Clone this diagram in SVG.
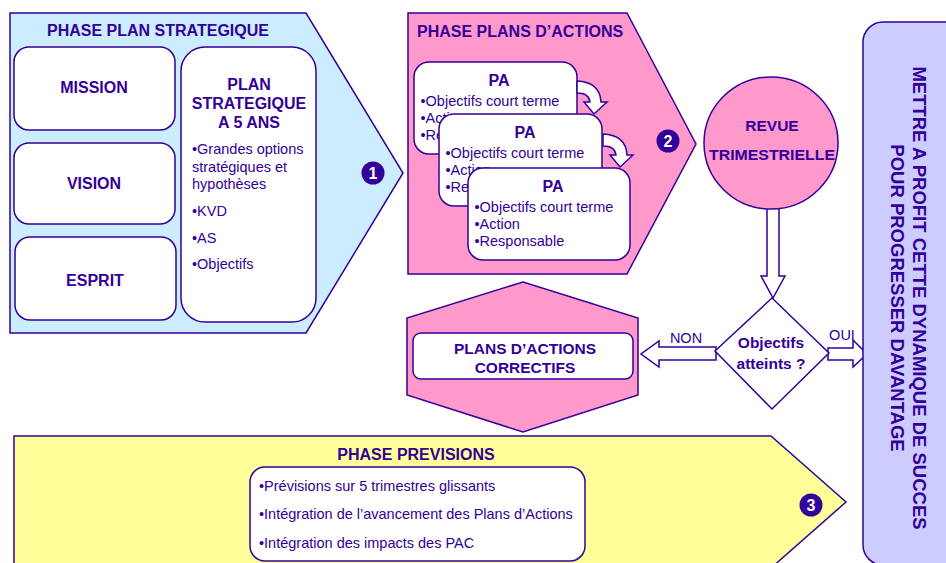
<svg xmlns="http://www.w3.org/2000/svg" width="946" height="563" viewBox="0 0 946 563">
<style>
text{font-family:"Liberation Sans",Arial,sans-serif;fill:#330099}
.b{font-weight:bold}
.t16{font-size:16px}
.t15{font-size:15.5px}
.t14{font-size:14.5px}
.c{text-anchor:middle}
.ln{stroke:#330099;stroke-width:1.5;stroke-linejoin:miter}
.wb{fill:#fff;stroke:#330099;stroke-width:1.5}
.pink{fill:#FF99CC}
.num{fill:#330099}
.numt{fill:#fff;font-size:16px;font-weight:bold;text-anchor:middle}
</style>
<rect width="946" height="563" fill="#fff"/>

<g id="phase-strategique">
<path class="ln" fill="#CCECFF" d="M10,13 L306,13 L403,173 L306,333 L10,333 Z"/>
<text class="b t16 c" x="158" y="36">PHASE PLAN STRATEGIQUE</text>
<g id="mission"><rect class="wb" x="14" y="47" width="161" height="83" rx="15"/><text class="b t16 c" x="94" y="93">MISSION</text></g>
<g id="vision"><rect class="wb" x="14" y="143" width="161" height="81" rx="15"/><text class="b t16 c" x="94" y="189">VISION</text></g>
<g id="esprit"><rect class="wb" x="15" y="237" width="161" height="83" rx="15"/><text class="b t16 c" x="95" y="286">ESPRIT</text></g>
<g id="plan5"><rect class="wb" x="181" y="47" width="135" height="275" rx="24"/>
<text class="b t16 c" x="249" y="90">PLAN</text>
<text class="b t16 c" x="249" y="109">STRATEGIQUE</text>
<text class="b t16 c" x="249" y="128">A 5 ANS</text>
<text class="t14" x="192" y="154">•Grandes options</text>
<text class="t14" x="192" y="172">stratégiques et</text>
<text class="t14" x="192" y="189">hypothèses</text>
<text class="t14" x="192" y="216">•KVD</text>
<text class="t14" x="192" y="243">•AS</text>
<text class="t14" x="192" y="269">•Objectifs</text>
</g>
<circle class="num" cx="373" cy="173" r="11.5"/><text class="numt" x="373" y="179">1</text>
</g>

<g id="phase-actions">
<path class="ln pink" d="M408,13 L627,13 L696,144 L627,274 L408,274 Z"/>
<text class="b t16" x="417" y="37">PHASE PLANS D’ACTIONS</text>
<g id="pa1"><rect class="wb" x="414" y="62" width="163" height="92" rx="15"/>
<text class="b t16 c" x="499" y="86">PA</text>
<text class="t14" x="420.5" y="105.5">•Objectifs court terme</text>
<text class="t14" x="420.5" y="122.5">•Action</text>
<text class="t14" x="420.5" y="140">•Responsable</text></g>
<path id="curve1" class="wb" d="M577,81 Q600,82 601,102 L607,102 L594,114 L584,102 L590,102 Q589,93 577,93 Z"/>
<g id="pa2"><rect class="wb" x="439" y="114" width="163" height="92" rx="15"/>
<text class="b t16 c" x="525" y="138">PA</text>
<text class="t14" x="445.5" y="157.5">•Objectifs court terme</text>
<text class="t14" x="445.5" y="174.5">•Action</text>
<text class="t14" x="445.5" y="192">•Responsable</text></g>
<path id="curve2" class="wb" d="M603,134 Q626,135 627,155 L633,155 L620,167 L610,155 L616,155 Q615,146 603,146 Z"/>
<g id="pa3"><rect class="wb" x="468" y="168" width="162" height="92" rx="15"/>
<text class="b t16 c" x="553" y="192">PA</text>
<text class="t14" x="474.5" y="211.5">•Objectifs court terme</text>
<text class="t14" x="474.5" y="228.5">•Action</text>
<text class="t14" x="474.5" y="246">•Responsable</text></g>
<circle class="num" cx="668" cy="141" r="11.5"/><text class="numt" x="668" y="147">2</text>
</g>

<g id="connectors">
<path class="wb" d="M767,200 L767,276 L761,276 L773,298 L785,276 L779,276 L779,200"/>
<path class="wb" d="M716,347 L659,347 L659,341 L641,354 L659,367 L659,360 L716,360 Z"/>
<path class="wb" d="M828,348 L853,348 L853,340 L867,354 L853,367 L853,360 L828,360 Z"/>
<text class="t14 c" x="686" y="343">NON</text>
<text class="t14 c" x="842" y="340">OUI</text>
</g>

<g id="revue">
<ellipse class="ln pink" cx="771" cy="143" rx="67" ry="66"/>
<text class="b c" style="font-size:15.5px" x="772" y="131">REVUE</text>
<text class="b c" style="font-size:15.5px" x="772" y="160" textLength="126" lengthAdjust="spacingAndGlyphs">TRIMESTRIELLE</text>
</g>

<g id="objectifs">
<path class="wb" d="M772,298 L829,353 L772,409 L715,351 Z"/>
<text class="b t15 c" x="771" y="348">Objectifs</text>
<text class="b t15 c" x="771" y="369">atteints ?</text>
</g>

<g id="pac">
<path class="ln pink" d="M523,282 L638,318 L638,395 L523,432 L407,395 L407,318 Z"/>
<rect class="wb" x="413" y="333" width="220" height="46" rx="8"/>
<text class="b t15 c" x="525" y="354">PLANS D’ACTIONS</text>
<text class="b t15 c" x="525" y="373">CORRECTIFS</text>
</g>

<g id="phase-previsions">
<path class="ln" fill="#FFFF99" stroke-width="2" d="M14,436 L771,436 L846,502 L771,568 L14,568 Z"/>
<text class="b t16 c" x="416" y="460">PHASE PREVISIONS</text>
<rect class="wb" x="250" y="467" width="335" height="94" rx="15"/>
<text class="t14" x="259" y="491">•Prévisions sur 5 trimestres glissants</text>
<text class="t14" x="259" y="519">•Intégration de l’avancement des Plans d’Actions</text>
<text class="t14" x="259" y="548">•Intégration des impacts des PAC</text>
<circle class="num" cx="811" cy="505" r="11.5"/><text class="numt" x="811" y="511">3</text>
</g>

<g id="mettre-a-profit">
<rect class="ln" fill="#CCCCFF" x="863" y="22" width="120" height="543" rx="20"/>
<text class="b c" style="font-size:18.5px" transform="translate(913,298) rotate(90)">METTRE A PROFIT CETTE DYNAMIQUE DE SUCCES</text>
<text class="b c" style="font-size:18.5px" transform="translate(891,298) rotate(90)">POUR PROGRESSER DAVANTAGE</text>
</g>
</svg>
